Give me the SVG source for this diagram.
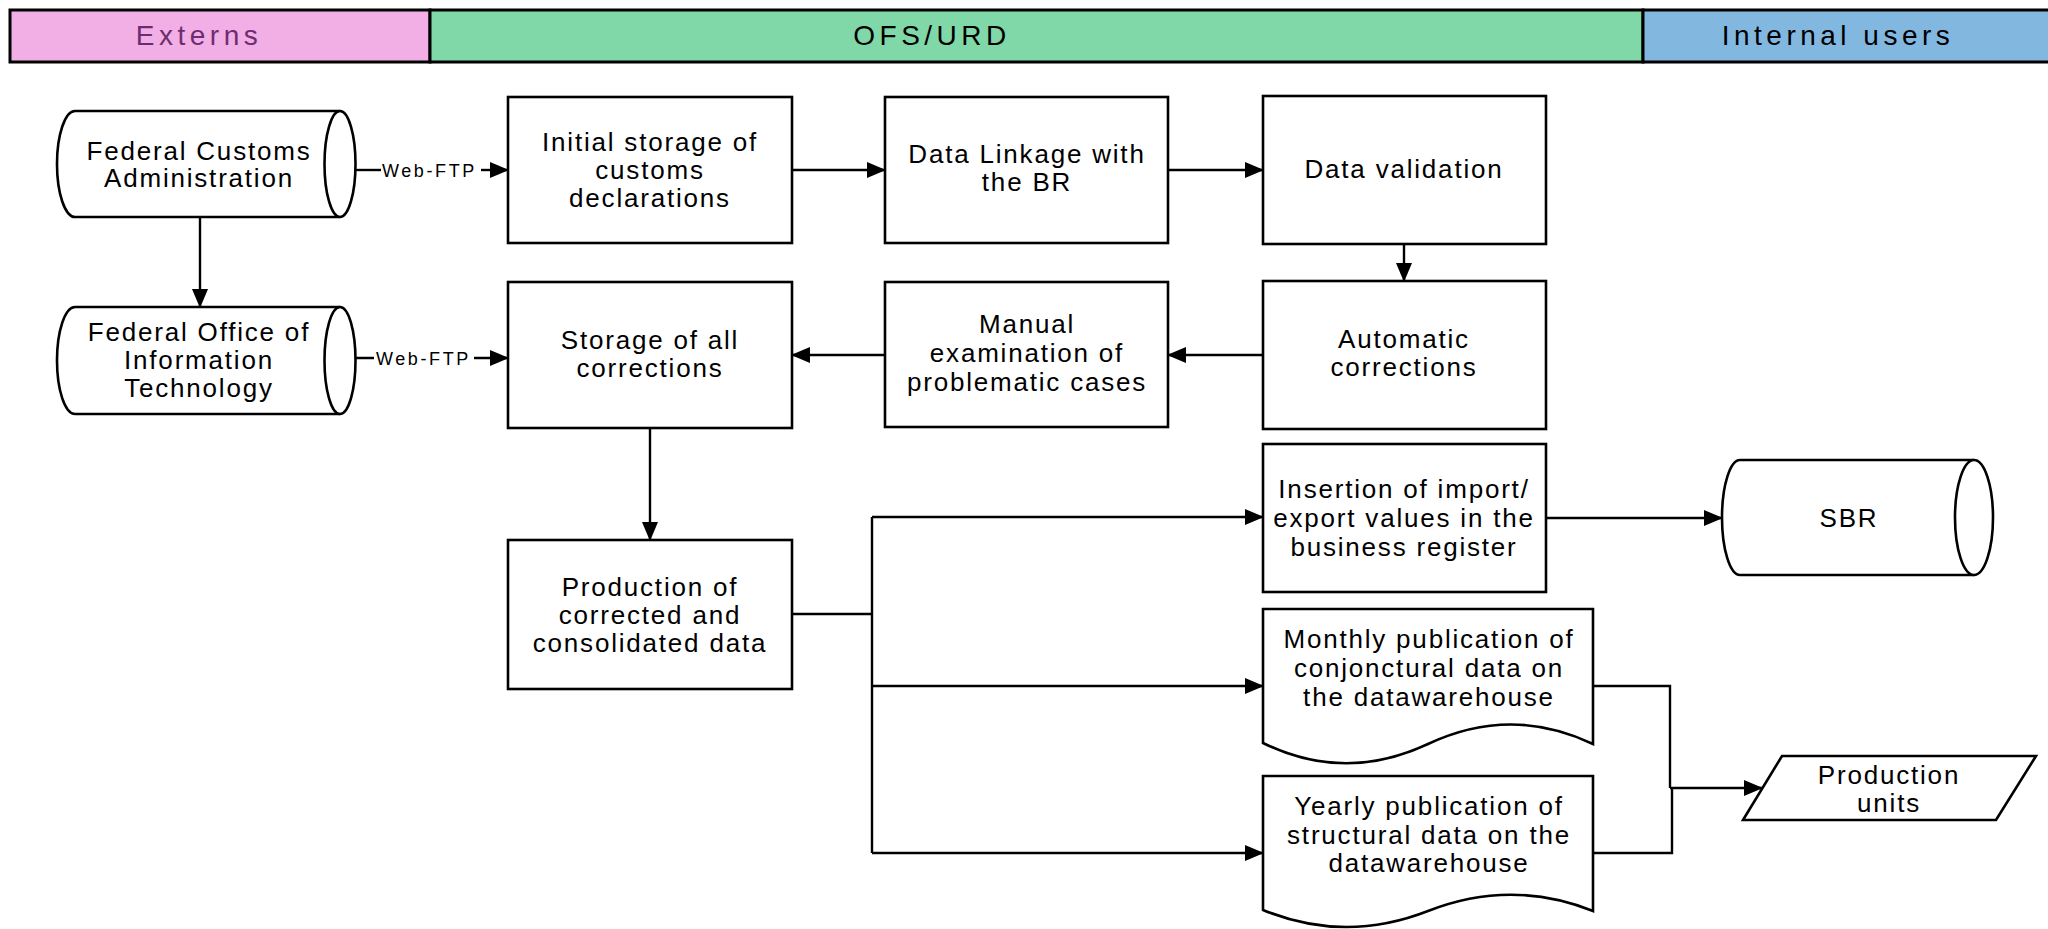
<svg xmlns="http://www.w3.org/2000/svg" width="2048" height="929" viewBox="0 0 2048 929">
<defs>
<marker id="ah" markerUnits="userSpaceOnUse" markerWidth="20" markerHeight="18" refX="18" refY="8" orient="auto">
<path d="M0,0 L19,8 L0,16 Z" fill="#000"/>
</marker>
<style>
.hdr{stroke:#000;stroke-width:3}
.ht{font-family:"Liberation Sans",Arial,sans-serif;font-size:28px;letter-spacing:4.5px;text-anchor:middle}
.n{fill:#fff;stroke:#000;stroke-width:2.6}
.t{font-family:"Liberation Sans",Arial,sans-serif;font-size:26px;letter-spacing:1.8px;text-anchor:middle;fill:#000}
.c{fill:none;stroke:#000;stroke-width:2.4}
.ca{fill:none;stroke:#000;stroke-width:2.4;marker-end:url(#ah)}
.lbl{font-family:"Liberation Sans",Arial,sans-serif;font-size:18px;letter-spacing:2.6px;fill:#000}
</style>
</defs>
<rect width="2048" height="929" fill="#fff"/>
<g id="header">
<rect class="hdr" x="10" y="10" width="420" height="52" fill="#F1AFE6"/>
<rect class="hdr" x="430" y="10" width="1213" height="52" fill="#80D8A8"/>
<rect class="hdr" x="1643" y="10" width="420" height="52" fill="#82B8E0"/>
<text class="ht" x="199" y="45" fill="#6E2C70">Externs</text>
<text class="ht" x="932" y="45" fill="#000">OFS/URD</text>
<text class="ht" x="1838" y="45" fill="#000">Internal users</text>
</g>
<g id="connectors">
<path class="ca" d="M200,217 V307"/>
<path class="c" d="M356,170 H381"/>
<path class="ca" d="M481,170 H508"/>
<path class="c" d="M340,358 H374"/>
<path class="ca" d="M474,358 H508"/>
<text class="lbl" x="382" y="177">Web-FTP</text>
<text class="lbl" x="376" y="365">Web-FTP</text>
<path class="ca" d="M792,170 H885"/>
<path class="ca" d="M1168,170 H1263"/>
<path class="ca" d="M1404,244 V281"/>
<path class="ca" d="M1263,355 H1168"/>
<path class="ca" d="M885,355 H792"/>
<path class="ca" d="M650,428 V540"/>
<path class="c" d="M792,614 H872"/>
<path class="c" d="M872,517 V853"/>
<path class="ca" d="M872,517 H1263"/>
<path class="ca" d="M872,686 H1263"/>
<path class="ca" d="M872,853 H1263"/>
<path class="ca" d="M1546,518 H1722"/>
<path class="c" d="M1593,686 H1670 V788"/>
<path class="c" d="M1593,853 H1672 V788"/>
<path class="ca" d="M1670,788 H1762"/>
</g>
<g id="fca">
<path class="n" d="M75,111 H340 A15.5,53 0 0 1 340,217 H75 A18,53 0 0 1 75,111 Z"/>
<path class="n" fill="none" d="M340,111 A15.5,53 0 0 0 340,217"/>
<text class="t" x="199" y="160">Federal Customs</text>
<text class="t" x="199" y="187">Administration</text>
</g>
<g id="foit">
<path class="n" d="M75,307 H340 A15.5,53.5 0 0 1 340,414 H75 A18,53.5 0 0 1 75,307 Z"/>
<path class="n" fill="none" d="M340,307 A15.5,53.5 0 0 0 340,414"/>
<text class="t" x="199" y="341">Federal Office of</text>
<text class="t" x="199" y="369">Information</text>
<text class="t" x="199" y="397">Technology</text>
</g>
<g id="initial">
<rect class="n" x="508" y="97" width="284" height="146"/>
<text class="t" x="650" y="151">Initial storage of</text>
<text class="t" x="650" y="179">customs</text>
<text class="t" x="650" y="207">declarations</text>
</g>
<g id="linkage">
<rect class="n" x="885" y="97" width="283" height="146"/>
<text class="t" x="1027" y="163">Data Linkage with</text>
<text class="t" x="1027" y="191">the BR</text>
</g>
<g id="validation">
<rect class="n" x="1263" y="96" width="283" height="148"/>
<text class="t" x="1404" y="178">Data validation</text>
</g>
<g id="automatic">
<rect class="n" x="1263" y="281" width="283" height="148"/>
<text class="t" x="1404" y="348">Automatic</text>
<text class="t" x="1404" y="376">corrections</text>
</g>
<g id="manual">
<rect class="n" x="885" y="282" width="283" height="145"/>
<text class="t" x="1027" y="333">Manual</text>
<text class="t" x="1027" y="362">examination of</text>
<text class="t" x="1027" y="391">problematic cases</text>
</g>
<g id="storage">
<rect class="n" x="508" y="282" width="284" height="146"/>
<text class="t" x="650" y="349">Storage of all</text>
<text class="t" x="650" y="377">corrections</text>
</g>
<g id="production">
<rect class="n" x="508" y="540" width="284" height="149"/>
<text class="t" x="650" y="596">Production of</text>
<text class="t" x="650" y="624">corrected and</text>
<text class="t" x="650" y="652">consolidated data</text>
</g>
<g id="insertion">
<rect class="n" x="1263" y="444" width="283" height="148"/>
<text class="t" x="1404" y="498">Insertion of import/</text>
<text class="t" x="1404" y="527">export values in the</text>
<text class="t" x="1404" y="556">business register</text>
</g>
<g id="sbr">
<path class="n" d="M1740,460 H1974 A19,57.5 0 0 1 1974,575 H1740 A18,57.5 0 0 1 1740,460 Z"/>
<path class="n" fill="none" d="M1974,460 A19,57.5 0 0 0 1974,575"/>
<text class="t" x="1849" y="527">SBR</text>
</g>
<g id="monthly">
<path class="n" d="M1263,609 H1593 V744 Q1511,705 1428,744 T1263,743 Z"/>
<text class="t" x="1429" y="648">Monthly publication of</text>
<text class="t" x="1429" y="677">conjonctural data on</text>
<text class="t" x="1429" y="706">the datawarehouse</text>
</g>
<g id="yearly">
<path class="n" d="M1263,776 H1593 V911 Q1511,878.5 1428,911 T1263,910 Z"/>
<text class="t" x="1429" y="815">Yearly publication of</text>
<text class="t" x="1429" y="844">structural data on the</text>
<text class="t" x="1429" y="872">datawarehouse</text>
</g>
<g id="units">
<path class="n" d="M1782,756 H2036 L1996,820 H1743 Z"/>
<text class="t" x="1889" y="784">Production</text>
<text class="t" x="1889" y="812">units</text>
</g>
</svg>
